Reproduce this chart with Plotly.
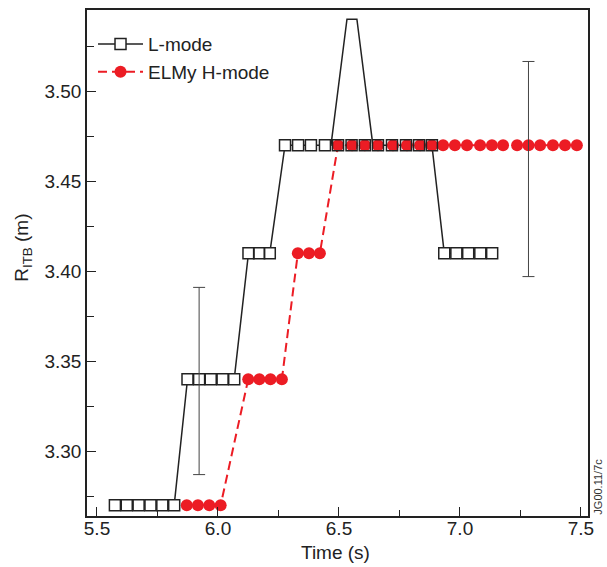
import plotly.graph_objects as go

# L-mode ITB radius samples (time in s, radius in m)
l_time = [5.574, 5.623, 5.672, 5.721, 5.770, 5.819,
          5.874, 5.922, 5.970, 6.019, 6.067,
          6.126, 6.170, 6.214,
          6.277, 6.331, 6.384, 6.442, 6.496, 6.552, 6.607, 6.661, 6.719, 6.777, 6.831, 6.884,
          6.935, 6.985, 7.034, 7.084, 7.133]
l_rad = [3.27] * 6 + [3.34] * 5 + [3.41] * 3 + [3.47] * 12 + [3.41] * 5

# Short L-mode excursion to larger radius (line only)
l_peak_time = [6.467, 6.533, 6.574, 6.640]
l_peak_rad = [3.47, 3.54, 3.54, 3.47]

# ELMy H-mode ITB radius samples
h_time = [5.871, 5.917, 5.964, 6.011,
          6.125, 6.171, 6.217, 6.264,
          6.330, 6.376, 6.421,
          6.496, 6.554, 6.607, 6.661, 6.723, 6.781, 6.835, 6.884, 6.930, 6.979,
          7.029, 7.083, 7.132, 7.178, 7.236, 7.283, 7.331, 7.384, 7.434, 7.483]
h_rad = [3.27] * 4 + [3.34] * 4 + [3.41] * 3 + [3.47] * 20

# Representative uncertainties
err_time = [5.922, 7.283]
err_rad = [3.34, 3.47]
err_plus = [0.051, 0.0465]
err_minus = [0.053, 0.073]

# L-mode line path: samples before the excursion, the excursion, samples after it
line_t, line_r = [], []
for t, r in zip(l_time, l_rad):
    if t < l_peak_time[0]:
        line_t.append(t); line_r.append(r)
line_t += l_peak_time; line_r += l_peak_rad
for t, r in zip(l_time, l_rad):
    if t > l_peak_time[-1]:
        line_t.append(t); line_r.append(r)

BLACK = "#222222"
RED = "#ec1c24"
FONT = "Liberation Sans, Arial, sans-serif"
DASH = "9px,5px"

fig = go.Figure()

# legend entries
fig.add_trace(go.Scatter(
    x=[None], y=[None], mode="lines+markers", name="L-mode",
    line=dict(color=BLACK, width=1.5),
    marker=dict(symbol="square", size=11, color="white", line=dict(color=BLACK, width=1.5)),
))
fig.add_trace(go.Scatter(
    x=[None], y=[None], mode="lines+markers", name="ELMy H-mode",
    line=dict(color=RED, width=2, dash=DASH),
    marker=dict(symbol="circle", size=12, color=RED),
))

# L-mode line and filled squares
fig.add_trace(go.Scatter(
    x=line_t, y=line_r, mode="lines", showlegend=False,
    line=dict(color=BLACK, width=1.5),
))
fig.add_trace(go.Scatter(
    x=l_time, y=l_rad, mode="markers", showlegend=False,
    marker=dict(symbol="square", size=11, color="white", line=dict(width=0)),
))

# H-mode
fig.add_trace(go.Scatter(
    x=h_time, y=h_rad, mode="lines+markers", showlegend=False,
    line=dict(color=RED, width=2, dash=DASH),
    marker=dict(symbol="circle", size=12, color=RED),
))

# L-mode square outlines on top
fig.add_trace(go.Scatter(
    x=l_time, y=l_rad, mode="markers", showlegend=False,
    marker=dict(symbol="square-open", size=11, color=BLACK, line=dict(color=BLACK, width=1.5)),
))

# error bars
fig.add_trace(go.Scatter(
    x=err_time, y=err_rad, mode="markers", showlegend=False,
    marker=dict(size=0.1, color="rgba(0,0,0,0)"),
    error_y=dict(type="data", symmetric=False, array=err_plus, arrayminus=err_minus,
                 color="#444444", thickness=1, width=6),
))

fig.update_layout(
    width=607, height=567,
    margin=dict(l=87, r=19, t=10, b=51, autoexpand=False),
    paper_bgcolor="white", plot_bgcolor="white",
    font=dict(family=FONT, size=19, color=BLACK),
    showlegend=True,
    legend=dict(x=0.012, y=0.97, xanchor="left", yanchor="top",
                bgcolor="rgba(0,0,0,0)", font=dict(size=19), itemwidth=45,
                tracegroupgap=0),
    annotations=[
        dict(text="R<sub>ITB</sub> (m)", xref="paper", yref="paper",
             x=-0.128, y=0.53, xanchor="center", yanchor="middle",
             textangle=-90, showarrow=False, font=dict(size=19, color=BLACK)),
        dict(text="Time (s)", xref="paper", yref="paper",
             x=0.496, y=-0.073, xanchor="center", yanchor="middle",
             showarrow=False, font=dict(size=19, color=BLACK)),
        dict(text="JG00.11/7c", xref="paper", yref="paper",
             x=1.02, y=0.058, xanchor="center", yanchor="middle",
             textangle=-90, showarrow=False, font=dict(size=11, color="#333333")),
    ],
)

fig.update_xaxes(
    range=[5.4587, 7.529], tick0=5.5, dtick=0.5, tickformat=".1f",
    ticks="inside", ticklen=9, tickwidth=1.2, tickcolor=BLACK, ticklabelstandoff=-6,
    minor=dict(dtick=0.25, tick0=5.5, ticks="inside", ticklen=6, tickwidth=1.2, tickcolor=BLACK),
    showline=True, linecolor=BLACK, linewidth=1.5, mirror=True,
    showgrid=False, zeroline=False, automargin=False,
)
fig.update_yaxes(
    range=[3.264, 3.5451], tick0=3.30, dtick=0.05, tickformat=".2f",
    ticks="inside", ticklen=9, tickwidth=1.2, tickcolor=BLACK,
    minor=dict(dtick=0.025, tick0=3.30, ticks="inside", ticklen=7, tickwidth=1.2, tickcolor=BLACK),
    showline=True, linecolor=BLACK, linewidth=1.5, mirror=True,
    showgrid=False, zeroline=False, automargin=False,
)

fig.write_html("out.html")
